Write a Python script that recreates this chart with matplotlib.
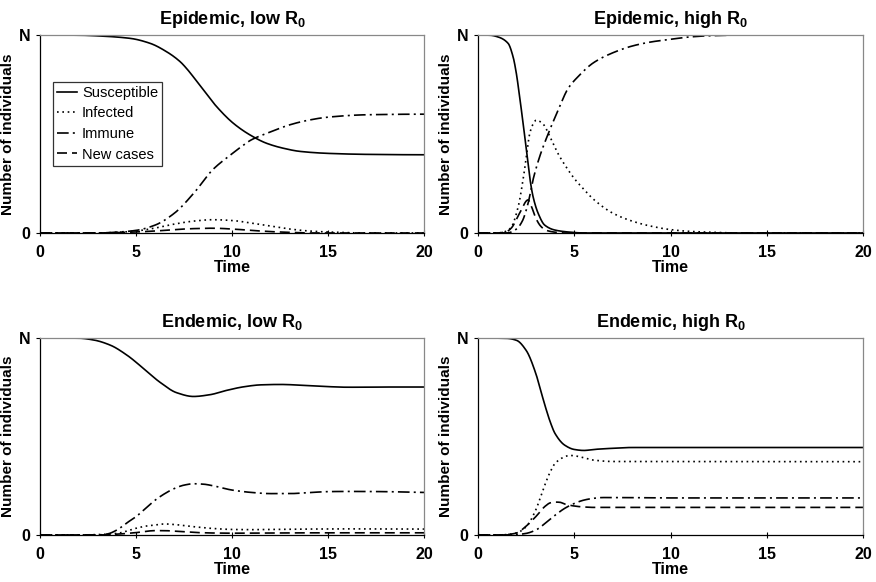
import numpy as np
import matplotlib.pyplot as plt

plt.rcParams['font.family'] = ['Liberation Sans', 'DejaVu Sans']
plt.rcParams['font.weight'] = 'bold'
plt.rcParams['mathtext.fontset'] = 'custom'
plt.rcParams['mathtext.rm'] = 'Liberation Sans:bold'
plt.rcParams['mathtext.bf'] = 'Liberation Sans:bold'

titles = [r"Epidemic, low R$_0$", r"Epidemic, high R$_0$",
          r"Endemic, low R$_0$", r"Endemic, high R$_0$"]
series_names = ["Susceptible", "Infected", "Immune", "New cases"]
x_ticks = [0, 5, 10, 15, 20]
y_ticks = [0, 1]
y_tick_labels = ["0", "N"]

# values, as fraction of N: (time, value)
# --- Epidemic, low R0
epi_low_s_t = [0, 2, 3.1, 4.69, 5.73, 6.6, 7.3, 7.64, 8.33, 9.2, 10.07, 10.94, 11.8, 12.67, 13.54, 15, 17, 20]
epi_low_s = [1.0, 0.999, 0.995, 0.983, 0.958, 0.915, 0.865, 0.83, 0.745, 0.638, 0.554, 0.495, 0.453, 0.428, 0.412, 0.402, 0.397, 0.395]
epi_low_i_t = [0, 3, 4, 5, 6, 7, 8, 9, 10, 11, 12, 13, 14, 15, 17, 20]
epi_low_i = [0, 0, 0.003, 0.01, 0.025, 0.045, 0.06, 0.067, 0.063, 0.05, 0.035, 0.02, 0.01, 0.005, 0.0, 0.0]
epi_low_r_t = [0, 3, 4, 5, 6, 7, 8, 9, 10, 10.5, 11, 12, 13, 14, 15, 17, 20]
epi_low_r = [0, 0, 0.004, 0.013, 0.04, 0.1, 0.2, 0.32, 0.4, 0.437, 0.47, 0.51, 0.546, 0.57, 0.585, 0.597, 0.6]
epi_low_n_t = [0, 3, 4, 5, 6, 7, 8, 9, 10, 11, 12, 13, 14, 20]
epi_low_n = [0, 0, 0.002, 0.005, 0.01, 0.017, 0.022, 0.024, 0.02, 0.013, 0.007, 0.003, 0.0, 0.0]

# --- Epidemic, high R0
epi_high_s_t = [0, 0.6, 1.04, 1.56, 1.82, 1.99, 2.16, 2.34, 2.51, 2.68, 2.86, 3.12, 3.46, 3.98, 4.68, 5.5, 20]
epi_high_s = [1.0, 0.999, 0.99, 0.958, 0.89, 0.806, 0.688, 0.555, 0.42, 0.284, 0.183, 0.1, 0.04, 0.015, 0.005, 0.0, 0.0]
epi_high_i_t = [0, 1, 1.5, 1.73, 2.08, 2.34, 2.51, 2.68, 2.86, 3.03, 3.38, 3.72, 4.16, 4.6, 5, 5.5, 6, 7, 8, 9, 10, 11, 12, 13.5, 20]
epi_high_i = [0, 0, 0.01, 0.03, 0.13, 0.27, 0.385, 0.5, 0.55, 0.57, 0.55, 0.49, 0.40, 0.33, 0.275, 0.22, 0.17, 0.1, 0.06, 0.034, 0.017, 0.008, 0.004, 0.0, 0.0]
epi_high_r_t = [0, 1.5, 2, 2.3, 2.6, 2.86, 3.2, 3.64, 4.16, 4.68, 5.2, 6, 7, 8, 9, 10, 11, 12, 14, 20]
epi_high_r = [0, 0.0, 0.02, 0.06, 0.15, 0.27, 0.385, 0.5, 0.62, 0.73, 0.79, 0.86, 0.91, 0.944, 0.965, 0.978, 0.99, 0.996, 1.0, 1.0]
epi_high_n_t = [0, 1, 1.5, 1.73, 2.16, 2.6, 2.75, 3, 3.25, 3.5, 4, 4.5, 20]
epi_high_n = [0, 0, 0.008, 0.025, 0.1, 0.167, 0.14, 0.075, 0.035, 0.015, 0.004, 0.0, 0.0]

# --- Endemic, low R0
end_low_s_t = [0, 2, 2.78, 3.65, 4.51, 5.38, 6.25, 7.12, 7.99, 8.85, 9.72, 10.6, 11.5, 12.5, 14, 15, 16, 17, 18, 20]
end_low_s = [1.0, 0.999, 0.99, 0.964, 0.914, 0.846, 0.775, 0.722, 0.703, 0.712, 0.734, 0.752, 0.762, 0.764, 0.758, 0.753, 0.75, 0.75, 0.751, 0.751]
end_low_i_t = [0, 2, 3, 4, 5, 5.5, 6, 6.5, 7, 8, 9, 10, 11, 12, 14, 16, 20]
end_low_i = [0, 0, 0.002, 0.008, 0.034, 0.045, 0.05, 0.056, 0.053, 0.042, 0.033, 0.028, 0.027, 0.028, 0.03, 0.031, 0.03]
end_low_r_t = [0, 3, 3.5, 4, 4.5, 5, 5.5, 6, 6.5, 7, 7.5, 8, 8.5, 9, 10, 11, 12, 13, 14, 15, 16, 18, 20]
end_low_r = [0, 0, 0.005, 0.025, 0.06, 0.093, 0.135, 0.177, 0.21, 0.236, 0.253, 0.26, 0.258, 0.25, 0.228, 0.216, 0.21, 0.21, 0.215, 0.22, 0.221, 0.22, 0.216]
end_low_n_t = [0, 3, 4, 5, 6, 6.5, 7, 8, 9, 10, 12, 15, 20]
end_low_n = [0, 0, 0.004, 0.012, 0.022, 0.022, 0.019, 0.013, 0.01, 0.009, 0.01, 0.011, 0.011]

# --- Endemic, high R0
end_high_s_t = [0, 1.5, 2, 2.5, 3, 3.25, 3.5, 3.75, 4, 4.5, 5, 5.5, 6, 7, 8, 10, 20]
end_high_s = [1.0, 0.998, 0.988, 0.937, 0.82, 0.735, 0.65, 0.574, 0.515, 0.456, 0.434, 0.429, 0.434, 0.44, 0.444, 0.444, 0.444]
end_high_i_t = [0, 1, 1.5, 2, 2.5, 3, 3.25, 3.5, 3.75, 4, 4.5, 4.75, 5, 5.5, 6, 7, 8, 20]
end_high_i = [0, 0, 0.002, 0.01, 0.042, 0.127, 0.194, 0.262, 0.32, 0.363, 0.397, 0.404, 0.402, 0.392, 0.38, 0.373, 0.373, 0.372]
end_high_r_t = [0, 1.5, 2, 2.5, 3, 3.5, 4, 4.5, 5, 5.5, 6, 6.5, 7, 10, 20]
end_high_r = [0, 0, 0.002, 0.008, 0.025, 0.06, 0.1, 0.135, 0.16, 0.177, 0.186, 0.19, 0.19, 0.188, 0.188]
end_high_n_t = [0, 1, 1.5, 2, 2.5, 3, 3.5, 3.75, 4, 4.25, 4.5, 5, 5.5, 6, 20]
end_high_n = [0, 0, 0.002, 0.01, 0.045, 0.093, 0.147, 0.163, 0.167, 0.166, 0.157, 0.147, 0.142, 0.14, 0.14]

panels = [
    [(epi_low_s_t, epi_low_s), (epi_low_i_t, epi_low_i), (epi_low_r_t, epi_low_r), (epi_low_n_t, epi_low_n)],
    [(epi_high_s_t, epi_high_s), (epi_high_i_t, epi_high_i), (epi_high_r_t, epi_high_r), (epi_high_n_t, epi_high_n)],
    [(end_low_s_t, end_low_s), (end_low_i_t, end_low_i), (end_low_r_t, end_low_r), (end_low_n_t, end_low_n)],
    [(end_high_s_t, end_high_s), (end_high_i_t, end_high_i), (end_high_r_t, end_high_r), (end_high_n_t, end_high_n)],
]

styles = [
    dict(linestyle='-'),
    dict(linestyle=(0, (1, 2.2))),
    dict(linestyle=(0, (7, 2.5, 1.2, 2.5))),
    dict(linestyle=(0, (6, 3))),
]


def smooth(t, v):
    # monotone cubic (PCHIP-like) so the sampled readings draw as smooth curves
    t = np.asarray(t, float)
    v = np.asarray(v, float)
    h = np.diff(t)
    d = np.diff(v) / h
    m = np.zeros_like(v)
    for k in range(1, len(v) - 1):
        if d[k - 1] * d[k] > 0:
            w1 = 2 * h[k] + h[k - 1]
            w2 = h[k] + 2 * h[k - 1]
            m[k] = (w1 + w2) / (w1 / d[k - 1] + w2 / d[k])
    tt, vv = [], []
    for k in range(len(h)):
        s = np.linspace(0, 1, 30, endpoint=False)
        h00 = 2 * s**3 - 3 * s**2 + 1
        h10 = s**3 - 2 * s**2 + s
        h01 = -2 * s**3 + 3 * s**2
        h11 = s**3 - s**2
        tt.append(t[k] + s * h[k])
        vv.append(h00 * v[k] + h10 * h[k] * m[k] + h01 * v[k + 1] + h11 * h[k] * m[k + 1])
    tt.append([t[-1]])
    vv.append([v[-1]])
    return np.concatenate(tt), np.concatenate(vv)


fig = plt.figure(figsize=(8.76, 5.82), dpi=100)
boxes = [
    [0.0457, 0.5997, 0.4383, 0.3402],
    [0.5457, 0.5997, 0.4395, 0.3402],
    [0.0457, 0.0808, 0.4383, 0.3385],
    [0.5457, 0.0808, 0.4395, 0.3385],
]

for p in range(4):
    ax = fig.add_axes(boxes[p])
    for j in range(4):
        t, v = panels[p][j]
        ts, vs = smooth(t, v)
        ax.plot(ts, vs, color='black', linewidth=1.2, label=series_names[j], **styles[j])
    ax.set_xlim(0, 20)
    ax.set_ylim(0, 1)
    ax.set_xticks(x_ticks)
    ax.set_yticks(y_ticks)
    ax.set_yticklabels(y_tick_labels)
    ax.tick_params(labelsize=11.5, length=3, width=0.8, pad=4)
    ax.tick_params(axis='x', direction='inout', length=5, pad=6)
    for lab in ax.get_xticklabels() + ax.get_yticklabels():
        lab.set_fontweight('bold')
    ax.set_title(titles[p], fontsize=13, fontweight='bold', pad=8)
    ax.set_xlabel("Time", fontsize=11.5, fontweight='bold', labelpad=0)
    ax.set_ylabel("Number of individuals", fontsize=11, fontweight='bold', labelpad=3)
    for side in ['top', 'right']:
        ax.spines[side].set_color('#888888')
    for side in ['left', 'bottom']:
        ax.spines[side].set_color('black')
    for side in ax.spines:
        ax.spines[side].set_linewidth(0.9)
    if p == 0:
        leg = ax.legend(loc='upper left', bbox_to_anchor=(0.033, 0.765), fontsize=10.5,
                        frameon=True, fancybox=False, handlelength=1.4,
                        handletextpad=0.3, borderpad=0.3, labelspacing=0.45,
                        borderaxespad=0)
        leg.get_frame().set_edgecolor('black')
        leg.get_frame().set_linewidth(0.9)
        for txt in leg.get_texts():
            txt.set_fontweight('normal')

fig.savefig("out.png", dpi=100)
